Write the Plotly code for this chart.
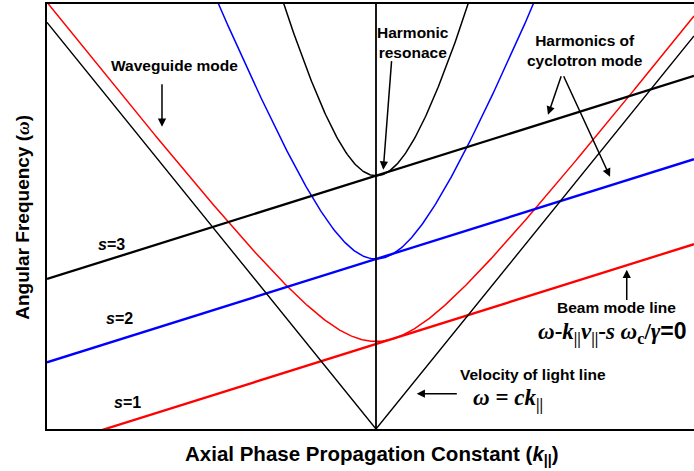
import numpy as np
import plotly.graph_objects as go

# Cyclotron harmonic numbers and their colours
harmonics = [1, 2, 3]
mode_colors = ["#ff0000", "#0000ff", "#000000"]

# Waveguide-mode hyperbolas: omega = sqrt(cutoff^2 + (slope * k)^2)
cutoff_freq = [1.03, 2.00, 2.98]
hyperbola_slope = [1.027, 2.00, 2.99]

# Beam-mode lines: omega = s*omega_c/gamma + v * k
beam_intercept = [1.00, 2.00, 2.98]
beam_velocity = 0.254

# Light line omega = c k
light_speed = 1.0

# Axis extents
k_range = [-4.784, 4.624]
omega_range = [0.0, 5.0]

k = np.linspace(k_range[0], k_range[1], 600)

fig = go.Figure()

# waveguide modes (hyperbolas)
for s, col, wc, b in zip(harmonics, mode_colors, cutoff_freq, hyperbola_slope):
    fig.add_trace(go.Scatter(x=k, y=np.sqrt(wc ** 2 + (b * k) ** 2), mode="lines",
                             line=dict(color=col, width=1.5), hoverinfo="skip"))

# beam-mode lines
for s, col, w0 in zip(harmonics, mode_colors, beam_intercept):
    fig.add_trace(go.Scatter(x=k, y=w0 + beam_velocity * k, mode="lines",
                             line=dict(color=col, width=2.3), hoverinfo="skip"))

# light lines
kl = np.array([k_range[0], 0.0, k_range[1]])
fig.add_trace(go.Scatter(x=kl, y=light_speed * np.abs(kl), mode="lines",
                         line=dict(color="black", width=1.4), hoverinfo="skip"))

# k = 0 axis
fig.add_trace(go.Scatter(x=[0, 0], y=omega_range, mode="lines",
                         line=dict(color="black", width=1.8), hoverinfo="skip"))

SANS = "Liberation Sans, Arial, sans-serif"
SERIF = "Liberation Serif, Times New Roman, serif"


def label(x, y, text, size=15.5, family=SANS):
    return dict(x=x, y=y, xref="x", yref="y", text=text, showarrow=False,
                font=dict(family=family, size=size, color="black"),
                xanchor="center", yanchor="middle", align="center")


def arrow(x0, y0, x1, y1):
    return dict(x=x1, y=y1, ax=x0, ay=y0, xref="x", yref="y", axref="x", ayref="y",
                text="", showarrow=True, arrowhead=2, arrowsize=1.1,
                arrowwidth=1.5, arrowcolor="black")


annotations = [
    label(-2.923, 4.274, "<b>Waveguide mode</b>"),
    label(0.538, 4.551, "<b>Harmonic<br>resonace</b>"),
    label(3.039, 4.451, "<b>Harmonics of<br>cyclotron mode</b>"),
    label(-3.846, 2.168, "<b><i>s</i>=3</b>", size=16),
    label(-3.730, 1.298, "<b><i>s</i>=2</b>", size=16),
    label(-3.613, 0.309, "<b><i>s</i>=1</b>", size=16),
    label(3.497, 1.427, "<b>Beam mode line</b>"),
    label(3.446, 1.133,
          "<b><i>ω</i>-<i>k</i><sub>||</sub><i>v</i><sub>||</sub>-<i>s ω</i><sub>c</sub>/<i>γ</i>"
          "<span style='font-family:Liberation Sans'>=0</span></b>",
          size=23, family=SERIF),
    label(2.290, 0.640, "<b>Velocity of light line</b>"),
    label(1.919, 0.350, "<b><i>ω</i> = <i>ck</i><sub>||</sub></b>", size=23, family=SERIF),
    arrow(-3.112, 4.074, -3.112, 3.556),
    arrow(0.228, 4.345, 0.106, 3.051),
    arrow(2.700, 4.168, 2.501, 3.698),
    arrow(2.719, 4.168, 3.403, 2.968),
    arrow(3.646, 1.501, 3.646, 1.874),
    arrow(1.197, 0.415, 0.592, 0.415),
    dict(x=0.502, y=-0.0605, xref="paper", yref="paper", showarrow=False,
         text="<b>Axial Phase Propagation Constant (<i>k</i><sub>||</sub>)</b>",
         font=dict(family=SANS, size=20.5, color="black"), xanchor="center", yanchor="middle"),
    dict(x=-0.0371, y=0.4995, xref="paper", yref="paper", showarrow=False, textangle=-90,
         text="<b>Angular Frequency (<i><span style='font-family:Liberation Serif'>ω</span></i>)</b>",
         font=dict(family=SANS, size=19, color="black"), xanchor="center", yanchor="middle"),
]

fig.update_layout(
    width=694, height=471,
    margin=dict(l=47, r=0, t=4, b=42),
    paper_bgcolor="white", plot_bgcolor="white",
    showlegend=False,
    annotations=annotations,
    xaxis=dict(range=k_range, showgrid=False, zeroline=False, showticklabels=False,
               ticks="", showline=True, linecolor="black", linewidth=2, mirror=True),
    yaxis=dict(range=omega_range, showgrid=False, zeroline=False, showticklabels=False,
               ticks="", showline=True, linecolor="black", linewidth=2),
)

fig.write_html("out.html")
